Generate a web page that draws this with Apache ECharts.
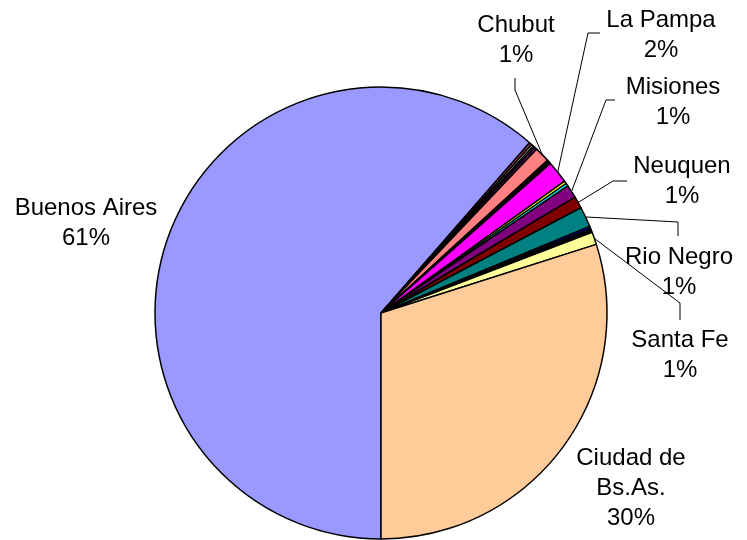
<!DOCTYPE html>
<html>
<head>
<meta charset="utf-8">
<script src="https://cdn.jsdelivr.net/npm/echarts@6/dist/echarts.min.js"></script>
<style>
html, body { margin: 0; padding: 0; background: #fff; }
#chart { width: 747px; height: 540px; }
</style>
</head>
<body>
<div id="chart"></div>
<script>
// datos por jurisdiccion (porcentaje aprox.)
const provincias = ['Buenos Aires', 'Catamarca', 'Chaco', 'Cordoba', 'Corrientes', 'Chubut',
    'Entre Rios', 'Formosa', 'Jujuy', 'La Pampa', 'La Rioja', 'Mendoza', 'Misiones', 'Neuquen',
    'Rio Negro', 'Salta', 'San Juan', 'San Luis', 'Santa Cruz', 'Santa Fe', 'Ciudad de Bs.As.'];
const valores = [61.4, 0.2, 0.15, 0.12, 0.2, 1.1,
    0.1, 0.1, 0.1, 1.6, 0.2, 0.2, 0.95, 0.85,
    1.45, 0.15, 0.1, 0.1, 0.1, 0.9, 29.9];
const colores = ['#9999FF', '#993366', '#FFFFCC', '#CCFFFF', '#660066', '#FF8080',
    '#0066CC', '#CCCCFF', '#000080', '#FF00FF', '#FFFF00', '#00FFFF', '#800080', '#800000',
    '#008080', '#0000FF', '#00CCFF', '#CCFFFF', '#CCFFCC', '#FFFF99', '#FFCC99'];

// donde va cada etiqueta (centro del texto) y el quiebre de la linea guia
const etiquetas = {
    'Buenos Aires': { x: 86, y: 223 },
    'Chubut': { x: 516, y: 40, linea: [[515, 90], [515, 78]] },
    'La Pampa': { x: 661, y: 35, linea: [[588, 33], [600, 33]] },
    'Misiones': { x: 673, y: 102, linea: [[606, 100], [615, 100]] },
    'Neuquen': { x: 682, y: 181, linea: [[613, 181], [627, 181]] },
    'Rio Negro': { x: 679, y: 272, linea: [[678, 222], [678, 236]] },
    'Santa Fe': { x: 680, y: 355, linea: [[680, 303], [680, 320]] },
    'Ciudad de Bs.As.': { x: 631, y: 488 }
};

const total = valores.reduce((a, b) => a + b, 0);

const datos = provincias.map(function (nombre, i) {
    const e = etiquetas[nombre];
    return {
        name: nombre,
        value: valores[i],
        itemStyle: { color: colores[i] },
        label: { show: !!e },
        labelLine: { show: !!(e && e.linea) }
    };
});

const myChart = echarts.init(document.getElementById('chart'));

const option = {
    animation: false,
    series: [{
        type: 'pie',
        center: [381, 313],
        radius: 226,
        startAngle: 270,
        clockwise: true,
        avoidLabelOverlap: false,
        emphasis: { disabled: true },
        data: datos,
        itemStyle: { borderColor: '#000', borderWidth: 1.5 },
        label: {
            position: 'outside',
            fontFamily: 'Liberation Sans',
            fontSize: 24,
            lineHeight: 30,
            color: '#000',
            formatter: function (p) {
                const pct = Math.round(p.value / total * 100);
                return p.name.replace('Ciudad de ', 'Ciudad de\n') + '\n' + pct + '%';
            }
        },
        labelLine: {
            lineStyle: { color: '#000', width: 1 }
        },
        labelLayout: function (params) {
            const e = etiquetas[provincias[params.dataIndex]];
            if (!e) return {};
            const res = { x: e.x, y: e.y, align: 'center', verticalAlign: 'middle' };
            if (e.linea && params.labelLinePoints) {
                res.labelLinePoints = [params.labelLinePoints[0], e.linea[0], e.linea[1]];
            }
            return res;
        }
    }]
};

myChart.setOption(option);
</script>
</body>
</html>
